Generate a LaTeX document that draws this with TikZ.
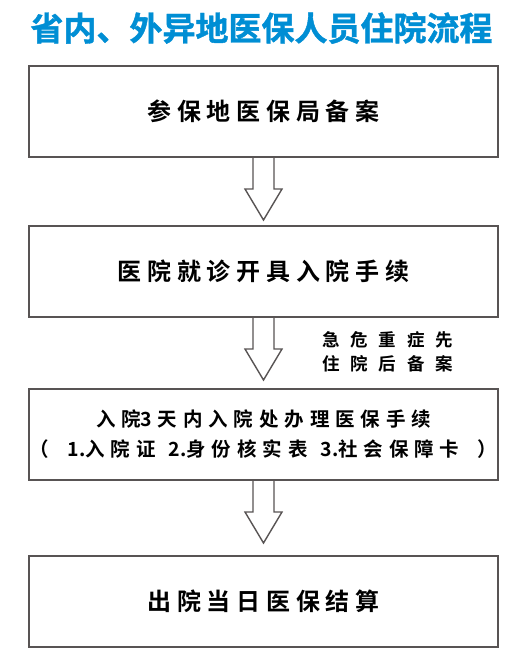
\documentclass[tikz,border=0pt]{standalone}
\usepackage{fontspec}
\usetikzlibrary{calc}
\newfontfamily\cjktitle{Noto Sans CJK SC}[BoldFont={Noto Sans CJK SC Bold},BoldFeatures={FakeBold=1.2}]
\newfontfamily\cjkplain{Noto Sans CJK SC}[BoldFont={Noto Sans CJK SC Bold}]
\newfontfamily\cjkbox{Noto Sans CJK SC}[BoldFont={Noto Sans CJK SC Bold},LetterSpace=24]
\newfontfamily\cjkmid{Noto Sans CJK SC}[BoldFont={Noto Sans CJK SC Bold},LetterSpace=30]
\newfontfamily\cjknote{Noto Sans CJK SC}[BoldFont={Noto Sans CJK SC Bold},LetterSpace=62]
\newcommand\asc[1]{{\cjkplain\bfseries #1}}
\definecolor{titleblue}{RGB}{0,142,212}
\definecolor{boxgray}{RGB}{88,84,84}
\tikzset{
  stepbox/.style={draw=boxgray,line width=2pt,minimum width=469pt,minimum height=91pt,inner sep=0pt,fill=white},
  arrowline/.style={draw=boxgray,line width=1.4pt,fill=white,line join=miter},
  boxtext/.style={font=\cjkbox\bfseries\fontsize{24}{26}\selectfont},
  midtext/.style={font=\cjkmid\bfseries\fontsize{19.5}{30}\selectfont,align=center,inner sep=0pt},
  notetext/.style={font=\cjknote\bfseries\fontsize{17.5}{24}\selectfont,align=left,inner sep=0pt}
}
\newcommand\hollowarrow[1]{%
  \draw[arrowline] ($(#1)+(-10.5,0)$) -- ($(#1)+(-10.5,31)$) -- ($(#1)+(-18.5,31)$)
    -- ($(#1)+(0,62)$) -- ($(#1)+(18.5,31)$) -- ($(#1)+(10.5,31)$) -- ($(#1)+(10.5,0)$);}
\begin{document}
\begin{tikzpicture}[x=1pt,y=-1pt]
\useasboundingbox (0,0) rectangle (514,665);
\fill[white] (0,0) rectangle (514,665);
\node[font=\cjktitle\bfseries\fontsize{33}{35}\selectfont,text=titleblue,inner sep=0pt] (title) at (261.5,28) {省内、外异地医保人员住院流程};
\node[stepbox] (b1) at (263.5,111.5) {};
\node[boxtext] (t1) at (b1.center) {参保地医保局备案\hspace{-5.8pt}};
\node[stepbox] (b2) at (263.5,271.5) {};
\node[boxtext] (t2) at (b2.center) {医院就诊开具入院手续\hspace{-5.8pt}};
\node[stepbox] (b3) at (263.5,434.5) {};
\node[midtext] (t3) at (b3.center) {入院\asc{3}\hspace{5.5pt}天内入院处办理医保手续\hspace{-5.8pt}\\\makebox[468pt]{（\hfill\asc{1.}入院证\hspace{13pt}\asc{2.}身份核实表\hspace{13pt}\asc{3.}社会保障卡\hfill）}};
\node[stepbox] (b4) at (263.5,601) {};
\node[boxtext] (t4) at (b4.center) {出院当日医保结算\hspace{-5.8pt}};
\node[notetext,anchor=west] (note) at (322,352) {急危重症先\\住院后备案};
\hollowarrow{b1.south}
\hollowarrow{b2.south}
\hollowarrow{b3.south}
\end{tikzpicture}
\end{document}
